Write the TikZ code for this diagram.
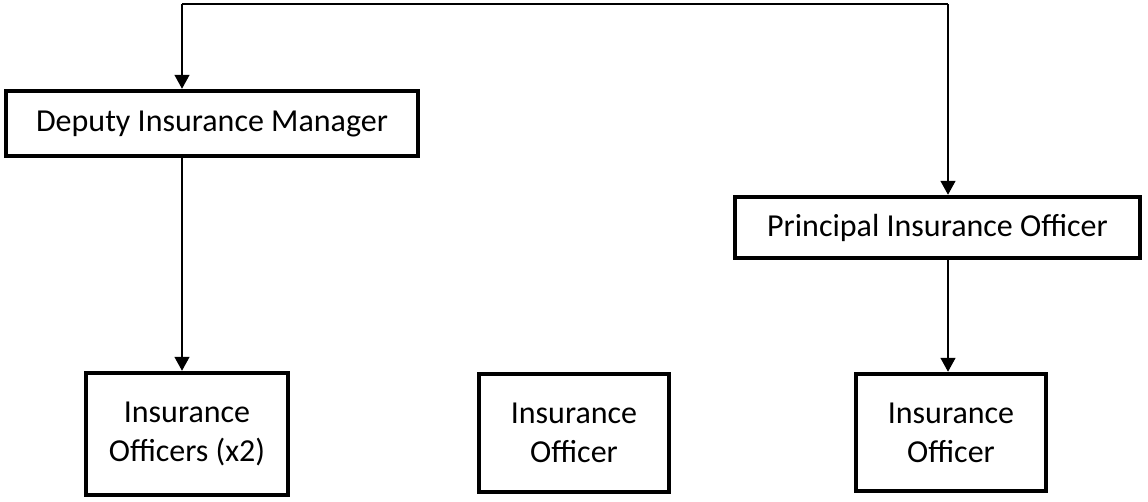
\documentclass[tikz,border=0pt]{standalone}
\usepackage{fontspec}
\setmainfont{Carlito}
\usetikzlibrary{arrows.meta}
\tikzset{
  box/.style={draw=black, line width=4.5pt, rectangle, inner sep=0pt, align=center,
    font=\fontsize{32}{39}\selectfont},
  conn/.style={draw=black, line width=1.6pt, -{Triangle[width=15pt,length=14pt]}},
  plain/.style={draw=black, line width=1.6pt}
}
\begin{document}
\begin{tikzpicture}[x=1pt,y=-1pt]
\useasboundingbox (0,0) rectangle (1148,501);
\node[box, minimum width=412pt, minimum height=65pt] (dep) at (212,123.5) {Deputy Insurance Manager};
\node[box, minimum width=405pt, minimum height=61pt] (pio) at (937.5,227.5) {Principal Insurance Officer};
\node[box, minimum width=202pt, minimum height=122pt] (io2) at (187,434) {Insurance\\Officers (x2)};
\node[box, minimum width=190pt, minimum height=118pt] (io1) at (574,433) {Insurance\\Officer};
\node[box, minimum width=190pt, minimum height=117pt] (io3) at (951,432.5) {Insurance\\Officer};
\coordinate (tl) at (182,4);
\coordinate (tr) at (948,4);
\draw[plain] (tl) -- (tr);
\draw[conn] (tl) -- (dep.north -| tl);
\draw[conn] (tr) -- (pio.north -| tr);
\draw[conn] (dep.south -| tl) -- (io2.north -| tl);
\draw[conn] (pio.south -| tr) -- (io3.north -| tr);
\end{tikzpicture}
\end{document}
